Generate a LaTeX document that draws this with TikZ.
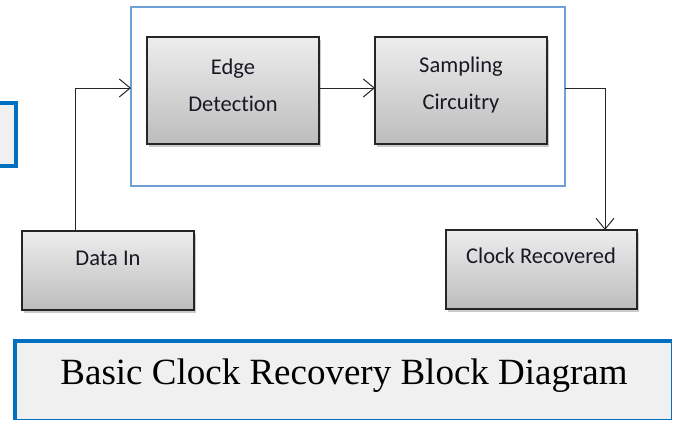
\documentclass[tikz,border=0pt]{standalone}
\usepackage{fontspec}
\setmainfont{Carlito}[Ligatures={NoCommon}]
\newfontfamily\capfont{Liberation Serif}
\usetikzlibrary{arrows.meta,shadows}
\definecolor{frameblue}{RGB}{110,160,215}
\definecolor{deepblue}{RGB}{0,112,192}
\definecolor{capfill}{RGB}{240,240,240}
\definecolor{txt}{RGB}{25,25,35}
\tikzset{
  blockbox/.style={draw=black!85, line width=1.2pt, top color=black!7, bottom color=black!26,
    drop shadow={shadow xshift=2pt, shadow yshift=-3pt, opacity=0.35, fill=black!60}},
  flow/.style={draw=black!85, line width=1pt, -{Straight Barb[length=11pt,width=18pt,line width=1pt]}},
  btext/.style={text=txt, font=\fontsize{22.5}{37}\selectfont, align=center},
}
\begin{document}
\begin{tikzpicture}[x=1pt,y=-1pt]
\useasboundingbox (0,0) rectangle (673,421);
% left partial box
\fill[capfill] (-5,103) rectangle (16,166);
\draw[deepblue, line width=3.5pt] (-5,103) -- (16,103) -- (16,166) -- (-5,166);
% outer frame
\draw[frameblue, line width=1.2pt] (131,7) rectangle (565,186);
\coordinate (fl) at (131,88);
\coordinate (fr) at (565,88);
% blocks
\draw[blockbox] (147,37) rectangle (319,144);
\node[btext] (edge) at (233,85) {Edge\\Detection};
\coordinate (edgeR) at (319,88);
\draw[blockbox] (375,37) rectangle (547,144);
\node[btext] (samp) at (461,85) {Sampling\\Circuitry};
\coordinate (sampL) at (375,88);
\draw[blockbox] (22,231) rectangle (194,310);
\node[btext] (data) at (108,258) {Data In};
\coordinate (dataT) at (75,231);
\draw[blockbox] (446,230) rectangle (637,309);
\node[btext] (clock) at (541,256) {Clock Recovered};
\coordinate (clockT) at (605,230);
% connectors
\draw[flow] (dataT) |- (fl);
\draw[flow] (edgeR) -- (sampL);
\draw[flow] (fr) -| (clockT);
% caption
\draw[deepblue, line width=1.2pt, fill=capfill] (15,341) rectangle (671.5,419.5);
\draw[deepblue, line width=4pt] (15,419.5) -- (15,341) -- (671.5,341);
\node[text=black, font=\capfont\fontsize{37}{44}\selectfont] (cap) at (344,376) {Basic Clock Recovery Block Diagram};
\end{tikzpicture}
\end{document}
